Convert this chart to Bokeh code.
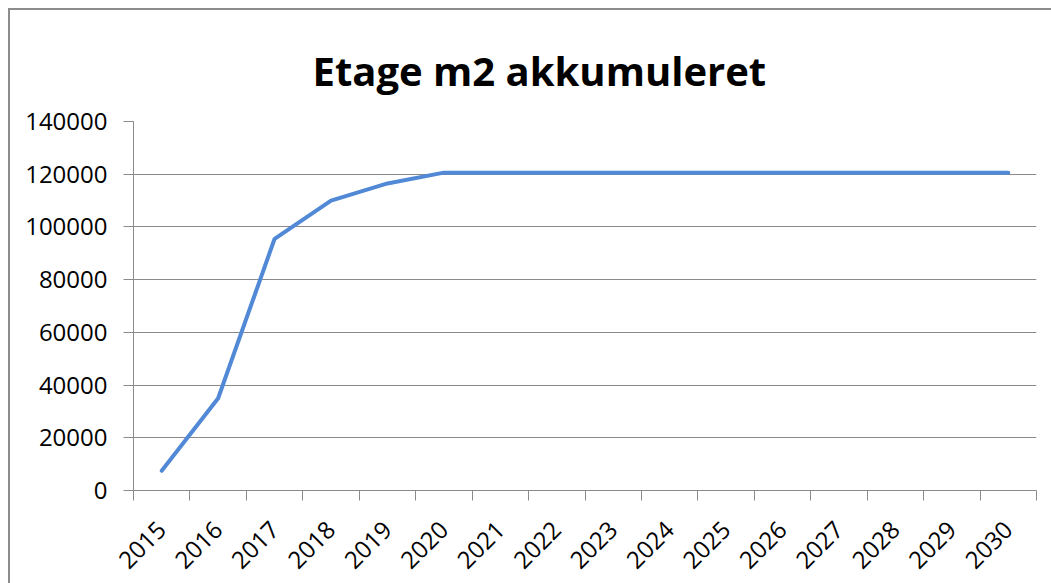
import math
from bokeh.plotting import figure
from bokeh.models import Range1d, FixedTicker, NumeralTickFormatter, Title
from bokeh.embed import file_html
from bokeh.resources import INLINE

# ---- data ----
years = ["2015", "2016", "2017", "2018", "2019", "2020", "2021", "2022",
         "2023", "2024", "2025", "2026", "2027", "2028", "2029", "2030"]
values = [7500, 35000, 95500, 110000, 116500, 120600, 120600, 120600,
          120600, 120600, 120600, 120600, 120600, 120600, 120600, 120600]
y_ticks = [0, 20000, 40000, 60000, 80000, 100000, 120000, 140000]
title_text = "Etage m2 akkumuleret"

n = len(years)
centers = [i + 0.5 for i in range(n)]
bounds = [float(i) for i in range(n + 1)]

GRID = "#8a8a8a"
FONT = "Open Sans"

p = figure(
    frame_width=903, frame_height=369,
    min_border_left=123, min_border_right=15,
    min_border_top=111, min_border_bottom=93,
    x_range=Range1d(0, n), y_range=Range1d(y_ticks[0], y_ticks[-1]),
    output_backend="svg", toolbar_location=None,
)
p.title = Title(text=title_text, align="left", text_font=FONT,
                text_font_size="40px", text_font_style="bold",
                text_color="black", offset=179, standoff=48)
p.outline_line_color = None
p.background_fill_color = "white"
p.border_fill_color = "white"
p.styles = {"border-top": "2px solid #8c8c8c", "border-left": "2px solid #8c8c8c",
            "margin-left": "8px", "margin-top": "8px"}

p.line(centers, values, line_color="#5189D6", line_width=4, line_join="round", line_cap="round")

# x axis: labels at category centres, ticks at boundaries
xa = p.xaxis[0]
xa.ticker = FixedTicker(ticks=centers, minor_ticks=bounds)
xa.major_label_overrides = {c: y for c, y in zip(centers, years)}
xa.major_tick_out = 0
xa.major_tick_in = 0
xa.minor_tick_out = 10
xa.minor_tick_in = 0
xa.minor_tick_line_color = GRID
xa.axis_line_color = GRID
xa.major_label_orientation = math.pi / 4
xa.major_label_text_font = FONT
xa.major_label_text_font_size = "24px"
xa.major_label_text_color = "black"
xa.major_label_standoff = 25

ya = p.yaxis[0]
ya.ticker = FixedTicker(ticks=y_ticks)
ya.formatter = NumeralTickFormatter(format="0")
ya.major_tick_out = 10
ya.major_tick_in = 0
ya.minor_tick_line_color = None
ya.major_tick_line_color = GRID
ya.axis_line_color = GRID
ya.major_label_text_font = FONT
ya.major_label_text_font_size = "24px"
ya.major_label_text_color = "black"
ya.major_label_standoff = 16

p.xgrid.grid_line_color = None
p.ygrid.grid_line_color = GRID
p.ygrid.grid_line_width = 1

open("out.html", "w").write(file_html(p, INLINE))
